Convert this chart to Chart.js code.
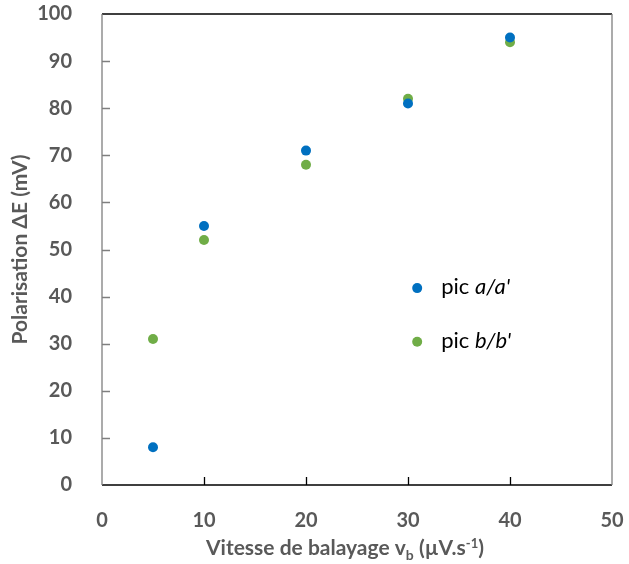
<!DOCTYPE html>
<html>
<head>
<meta charset="utf-8">
<script src="https://cdn.jsdelivr.net/npm/chart.js@4"></script>
<style>
  html, body { margin: 0; padding: 0; background: #fff; }
  #wrap { width: 629px; height: 564px; }
</style>
</head>
<body>
<div id="wrap"><canvas id="polarChart" width="629" height="564"></canvas></div>
<script>
// donnees
const vitesses = [5, 10, 20, 30, 40];
const picA = [8, 55, 71, 81, 95];
const picB = [31, 52, 68, 82, 94];
const legendLabels = [['pic ', "a/a'"], ['pic ', "b/b'"]];
const xTicks = [0, 10, 20, 30, 40, 50];
const yTicks = [0, 10, 20, 30, 40, 50, 60, 70, 80, 90, 100];

const bleu = '#0070C0';
const vert = '#70AD47';
const gris = '#595959';
const police = "Lato, 'Open Sans', sans-serif";

function toPoints(xs, ys) {
    return xs.map((x, i) => ({ x: x, y: ys[i] }));
}

// cadre + petits traits vers l'interieur
const cadrePlugin = {
    id: 'cadre',
    afterDraw(chart) {
        const ctx = chart.ctx;
        const a = chart.chartArea;
        const xs = chart.scales.x, ys = chart.scales.y;
        ctx.save();
        ctx.lineWidth = 1.3;
        ctx.strokeStyle = '#000';
        ctx.beginPath();
        ctx.moveTo(a.left, a.top); ctx.lineTo(a.right, a.top);
        ctx.moveTo(a.left, a.bottom); ctx.lineTo(a.right, a.bottom);
        ctx.stroke();
        ctx.strokeStyle = '#7f7f7f';
        ctx.beginPath();
        ctx.moveTo(a.left, a.top); ctx.lineTo(a.left, a.bottom);
        ctx.moveTo(a.right, a.top); ctx.lineTo(a.right, a.bottom);
        // traits de graduation
        yTicks.forEach(v => {
            if (v === 0 || v === 100) return;
            const p = Math.round(ys.getPixelForValue(v)) + 0.5;
            ctx.moveTo(a.left, p); ctx.lineTo(a.left + 8, p);
        });
        ctx.stroke();
        ctx.strokeStyle = '#000';
        ctx.beginPath();
        xTicks.forEach(v => {
            if (v === 0 || v === 50) return;
            const p = Math.round(xs.getPixelForValue(v)) + 0.5;
            ctx.moveTo(p, a.bottom); ctx.lineTo(p, a.bottom - 8);
        });
        ctx.stroke();
        ctx.restore();
    }
};

// titre de l'axe x avec l'indice b
const titreXPlugin = {
    id: 'titreX',
    afterDraw(chart) {
        const ctx = chart.ctx;
        const a = chart.chartArea;
        const parts = [
            ['Vitesse de balayage v', 21, 0],
            ['b', 14, 5],
            [' (\u00B5V.s', 21, 0],
            ['-1', 13, -7],
            [')', 21, 0]
        ];
        ctx.save();
        ctx.fillStyle = gris;
        ctx.textBaseline = 'alphabetic';
        let total = 0;
        parts.forEach(p => {
            ctx.font = 'bold ' + p[1] + 'px ' + police;
            total += ctx.measureText(p[0]).width;
        });
        let x = (a.left + a.right) / 2 - total / 2 - 12;
        const base = 555;
        parts.forEach(p => {
            ctx.font = 'bold ' + p[1] + 'px ' + police;
            ctx.fillText(p[0], x, base + p[2]);
            x += ctx.measureText(p[0]).width;
        });
        ctx.restore();
    }
};

// legende avec partie en italique
const legendePlugin = {
    id: 'legende',
    afterDraw(chart) {
        const ctx = chart.ctx;
        const xs = chart.scales.x, ys = chart.scales.y;
        const lx = xs.getPixelForValue(30.9);
        const rows = [ys.getPixelForValue(41.8), ys.getPixelForValue(30.4)];
        const couleurs = [bleu, vert];
        ctx.save();
        ctx.textBaseline = 'middle';
        rows.forEach((py, i) => {
            ctx.fillStyle = couleurs[i];
            ctx.beginPath();
            ctx.arc(lx, py, 5, 0, Math.PI * 2);
            ctx.fill();
            ctx.fillStyle = '#000';
            ctx.font = '22px ' + police;
            let tx = lx + 24;
            ctx.fillText(legendLabels[i][0], tx, py - 1);
            tx += ctx.measureText(legendLabels[i][0]).width;
            ctx.font = 'italic 22px ' + police;
            ctx.fillText(legendLabels[i][1], tx, py - 1);
        });
        ctx.restore();
    }
};

const ctx = document.getElementById('polarChart').getContext('2d');
new Chart(ctx, {
    type: 'scatter',
    data: {
        datasets: [
            {
                label: "pic a/a'",
                data: toPoints(vitesses, picA),
                backgroundColor: bleu,
                borderColor: bleu,
                pointRadius: 5,
                pointBorderWidth: 0
            },
            {
                label: "pic b/b'",
                data: toPoints(vitesses, picB),
                backgroundColor: vert,
                borderColor: vert,
                pointRadius: 5,
                pointBorderWidth: 0
            }
        ]
    },
    options: {
        responsive: false,
        animation: false,
        layout: { padding: { top: 14, right: 17, left: 0, bottom: 0 } },
        plugins: {
            legend: { display: false },
            tooltip: { enabled: false }
        },
        scales: {
            x: {
                type: 'linear',
                min: 0, max: 50,
                afterBuildTicks(scale) { scale.ticks = xTicks.map(v => ({ value: v })); },
                afterFit(scale) {
                    scale.height = 79;
                    scale.paddingLeft = 0;
                    scale.paddingRight = 0;
                },
                grid: { display: false },
                border: { display: false },
                ticks: {
                    color: gris,
                    padding: 16,
                    font: { family: police, size: 20, weight: 'bold' }
                }
            },
            y: {
                type: 'linear',
                min: 0, max: 100,
                afterBuildTicks(scale) { scale.ticks = yTicks.map(v => ({ value: v })); },
                afterFit(scale) {
                    scale.width = 102;
                    scale.paddingTop = 0;
                    scale.paddingBottom = 0;
                },
                grid: { display: false },
                border: { display: false },
                ticks: {
                    color: gris,
                    padding: 22,
                    font: { family: police, size: 20, weight: 'bold' }
                },
                title: {
                    display: true,
                    text: 'Polarisation \u0394E (mV)',
                    color: gris,
                    padding: { top: 8, bottom: 0 },
                    font: { family: police, size: 21, weight: 'bold' }
                }
            }
        }
    },
    plugins: [cadrePlugin, titreXPlugin, legendePlugin]
});
</script>
</body>
</html>
